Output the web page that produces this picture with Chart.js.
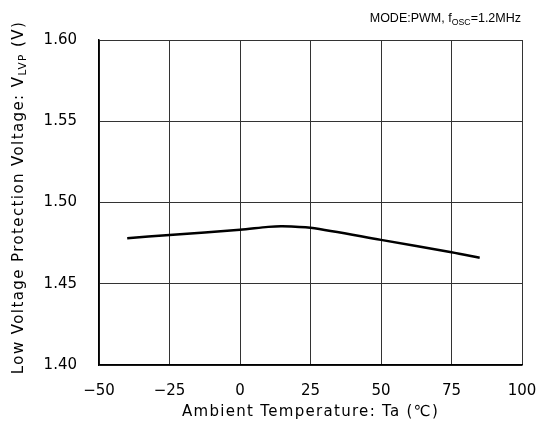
<!DOCTYPE html>
<html>
<head>
<meta charset="utf-8">
<script src="https://cdn.jsdelivr.net/npm/chart.js@4/dist/chart.umd.min.js"></script>
<style>
  html, body { margin: 0; padding: 0; background: #fff; }
  #wrap { width: 542px; height: 433px; }
</style>
</head>
<body>
<div id="wrap"><canvas id="chart1"></canvas></div>
<script>
"use strict";

// Ta (degC) and V_LVP (V)
var temps = [-40, -25, 0, 10, 15, 25, 50, 75, 85];
var vlvp = [1.478, 1.480, 1.4832, 1.4850, 1.4854, 1.4844, 1.4770, 1.4694, 1.4660];
var xTicks = [-50, -25, 0, 25, 50, 75, 100];
var yTicks = [1.40, 1.45, 1.50, 1.55, 1.60];

var jpFont = '"DejaVu Sans", "Noto Sans CJK JP", sans-serif';
var noteFont = '"Liberation Sans", Arial, sans-serif';

// draw a string with subscript pieces, anchored at x by align ('center' or 'right')
function drawParts(ctx, parts, x, y, size, align, spacing) {
	var total = 0;
	ctx.letterSpacing = (spacing || 0) + 'px';
	parts.forEach(function(p) {
		ctx.font = (p.sub ? size * 0.7 : size) + 'px ' + p.font;
		p.w = ctx.measureText(p.t).width;
		total += p.w;
	});
	var cx = align === 'right' ? x - total : x - total / 2;
	parts.forEach(function(p) {
		ctx.font = (p.sub ? size * 0.7 : size) + 'px ' + p.font;
		ctx.fillText(p.t, cx, y + (p.sub ? size * 0.28 : 0));
		cx += p.w;
	});
	ctx.letterSpacing = '0px';
}

var labelsPlugin = {
	id: 'labels',
	afterDraw: function(chart) {
		var ctx = chart.ctx;
		var area = chart.chartArea;
		ctx.save();
		ctx.fillStyle = '#000';
		ctx.textBaseline = 'middle';
		ctx.textAlign = 'left';

		// x title
		drawParts(ctx, [{ t: 'Ambient Temperature: Ta (℃)', font: jpFont }], (area.left + area.right) / 2, 412, 15, 'center', 1.3);

		// y title, rotated
		ctx.translate(19, (area.top + area.bottom) / 2 - 5);
		ctx.rotate(-Math.PI / 2);
		drawParts(ctx, [
			{ t: 'Low Voltage Protection Voltage: V', font: jpFont },
			{ t: 'LVP', font: jpFont, sub: true },
			{ t: ' (V)', font: jpFont }
		], 0, 0, 15, 'center', 1.4);
		ctx.restore();

		// condition note
		ctx.save();
		ctx.fillStyle = '#000';
		ctx.textBaseline = 'middle';
		ctx.textAlign = 'left';
		drawParts(ctx, [
			{ t: 'MODE:PWM, f', font: noteFont },
			{ t: 'OSC', font: noteFont, sub: true },
			{ t: '=1.2MHz', font: noteFont }
		], 521, 19, 12.5, 'right');
		ctx.restore();
	}
};

var ctx = document.getElementById('chart1').getContext('2d');
var myChart = new Chart(ctx, {
	type: 'line',
	data: {
		labels: temps,
		datasets: [{
			label: 'VLVP',
			data: temps.map(function(t, i) { return { x: t, y: vlvp[i] }; }),
			borderColor: '#000',
			borderWidth: 2.5,
			pointRadius: 0,
			tension: 0.3,
			fill: false
		}]
	},
	options: {
		responsive: true,
		maintainAspectRatio: false,
		animation: false,
		layout: {
			padding: { left: 0, top: 40, right: 20, bottom: 0 }
		},
		plugins: {
			legend: { display: false },
			tooltip: { enabled: false }
		},
		scales: {
			x: {
				type: 'linear',
				min: -50,
				max: 100,
				afterBuildTicks: function(scale) {
					scale.ticks = xTicks.map(function(v) { return { value: v }; });
				},
				afterFit: function(scale) {
					scale.height = 68;
					scale.paddingLeft = 0;
					scale.paddingRight = 0;
				},
				border: { color: '#000', width: 1.5 },
				grid: { color: '#333', lineWidth: 1, drawTicks: false },
				ticks: {
					padding: 17,
					color: '#000',
					maxRotation: 0,
					font: { family: jpFont, size: 15 },
					callback: function(v) { return String(v).replace('-', '\u2212'); }
				}
			},
			y: {
				min: 1.40,
				max: 1.60,
				afterBuildTicks: function(scale) {
					scale.ticks = yTicks.map(function(v) { return { value: v }; });
				},
				afterFit: function(scale) {
					scale.width = 99;
					scale.paddingTop = 0;
					scale.paddingBottom = 0;
				},
				border: { color: '#000', width: 1.5 },
				grid: { color: '#333', lineWidth: 1, drawTicks: false },
				ticks: {
					padding: 22,
					color: '#000',
					font: { family: jpFont, size: 15 },
					callback: function(v) { return Number(v).toFixed(2); }
				}
			}
		}
	},
	plugins: [labelsPlugin]
});
</script>
</body>
</html>
